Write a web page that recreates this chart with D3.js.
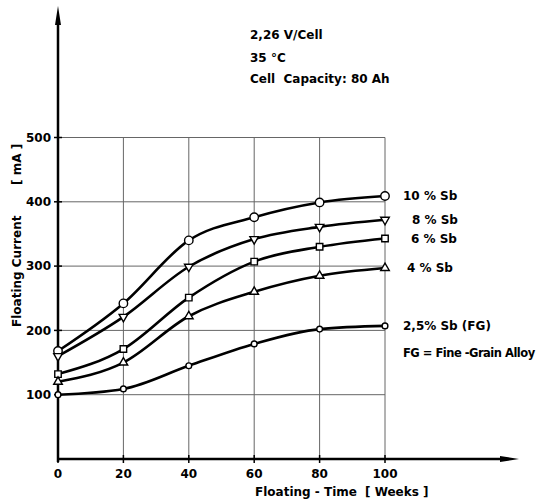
<!DOCTYPE html>
<html>
<head>
<meta charset="utf-8">
<script src="https://cdn.jsdelivr.net/npm/d3@7"></script>
<style>
  body { margin: 0; background: #fff; }
  svg { display: block; font-family: "DejaVu Sans", sans-serif; font-weight: bold; }
  .grid line { stroke: #666; stroke-width: 1; }
  .curve { fill: none; stroke: #000; stroke-width: 2.6px; }
  .mark { fill: #fff; stroke: #000; stroke-width: 1.4px; }
</style>
</head>
<body>
<svg id="chart" width="543" height="502"></svg>
<script>
  // values
  const weeks = [0, 20, 40, 60, 80, 100];
  const sb10 = [168, 242, 340, 376, 399, 409];
  const sb8 = [160, 221, 299, 342, 361, 372];
  const sb6 = [132, 171, 251, 307, 330, 343];
  const sb4 = [120, 150, 222, 260, 285, 297];
  const sb25 = [100, 109, 145, 179, 202, 207];
  const xTicks = [0, 20, 40, 60, 80, 100];
  const yTicks = [100, 200, 300, 400, 500];
  const notes = ["2,26 V/Cell", "35 °C", "Cell  Capacity: 80 Ah"];

  const series = [
    { label: "10 % Sb", values: sb10, sym: "circle", dx: 18 },
    { label: "8 % Sb", values: sb8, sym: "down", dx: 27 },
    { label: "6 % Sb", values: sb6, sym: "square", dx: 26 },
    { label: "4 % Sb", values: sb4, sym: "up", dx: 22 },
    { label: "2,5% Sb (FG)", values: sb25, sym: "small", dx: 18 },
  ];

  const svg = d3.select("#chart");
  const x = d3.scaleLinear().domain([0, 100]).range([58, 385]);
  const y = d3.scaleLinear().domain([0, 500]).range([459, 137.5]);

  // grid
  const grid = svg.append("g").attr("class", "grid");
  grid.selectAll(".h").data(yTicks).join("line")
    .attr("x1", x(0)).attr("x2", x(100))
    .attr("y1", d => y(d)).attr("y2", d => y(d));
  grid.selectAll(".v").data(xTicks.slice(1)).join("line")
    .attr("x1", d => x(d)).attr("x2", d => x(d))
    .attr("y1", y(0)).attr("y2", y(500));

  // axes with arrows
  const ax = svg.append("g").attr("stroke", "#000");
  ax.append("line").attr("x1", x(0)).attr("x2", 505).attr("y1", y(0)).attr("y2", y(0)).attr("stroke-width", 2.5);
  ax.append("line").attr("x1", x(0)).attr("x2", x(0)).attr("y1", y(0) + 3).attr("y2", 20).attr("stroke-width", 2.5);
  svg.append("path").attr("d", `M519,${y(0)} L500,${y(0) - 3} L500,${y(0) + 3} Z`);
  svg.append("path").attr("d", `M${x(0)},6 L${x(0) - 3},25 L${x(0) + 3},25 Z`);
  ax.selectAll(".yt").data(yTicks).join("line")
    .attr("x1", x(0) - 4).attr("x2", x(0) + 4)
    .attr("y1", d => y(d)).attr("y2", d => y(d)).attr("stroke-width", 1.5);
  ax.selectAll(".xt").data(xTicks).join("line")
    .attr("x1", d => x(d)).attr("x2", d => x(d))
    .attr("y1", y(0) - 4).attr("y2", y(0) + 4).attr("stroke-width", 1.5);

  svg.selectAll(".ylab").data(yTicks).join("text")
    .attr("x", 51).attr("y", d => y(d)).attr("dy", "0.36em")
    .attr("text-anchor", "end").attr("font-size", 12).text(d => d);
  svg.selectAll(".xlab").data(xTicks).join("text")
    .attr("x", d => x(d)).attr("y", 478)
    .attr("text-anchor", "middle").attr("font-size", 12).text(d => d);

  // axis titles
  svg.append("text").attr("x", 255).attr("y", 496).attr("font-size", 12).text("Floating - Time");
  svg.append("text").attr("x", 365).attr("y", 496).attr("font-size", 12).text("[ Weeks ]");
  svg.append("text").attr("transform", "translate(21,327) rotate(-90)").attr("font-size", 12).text("Floating  Current");
  svg.append("text").attr("transform", "translate(21,185) rotate(-90)").attr("font-size", 12).text("[ mA ]");

  // notes
  svg.selectAll(".note").data(notes).join("text")
    .attr("x", 250).attr("y", (d, i) => [39, 62, 83][i])
    .attr("font-size", 12).attr("xml:space", "preserve").text(d => d);

  // curves
  const line = d3.line().x((d, i) => x(weeks[i])).y(d => y(d)).curve(d3.curveMonotoneX);
  const shapes = {
    circle: d3.symbol(d3.symbolCircle, 56),
    small: d3.symbol(d3.symbolCircle, 26),
    square: d3.symbol(d3.symbolSquare, 42),
    up: d3.symbol(d3.symbolTriangle, 32),
    down: d3.symbol(d3.symbolTriangle, 32),
  };

  series.forEach(s => {
    svg.append("path").attr("class", "curve").attr("d", line(s.values));
    svg.append("g").selectAll("path").data(s.values).join("path")
      .attr("class", "mark")
      .attr("transform", (d, i) => `translate(${x(weeks[i])},${y(d)})` + (s.sym === "down" ? " rotate(180)" : ""))
      .attr("d", shapes[s.sym]());
    svg.append("text")
      .attr("x", x(100) + s.dx).attr("y", y(s.values[s.values.length - 1])).attr("dy", "0.36em")
      .attr("font-size", 12).text(s.label);
  });

  svg.append("text").attr("x", 403).attr("y", 353).attr("dy", "0.36em")
    .attr("font-size", 11.5).attr("letter-spacing", -0.5).text("FG = Fine -Grain Alloy");
</script>
</body>
</html>
